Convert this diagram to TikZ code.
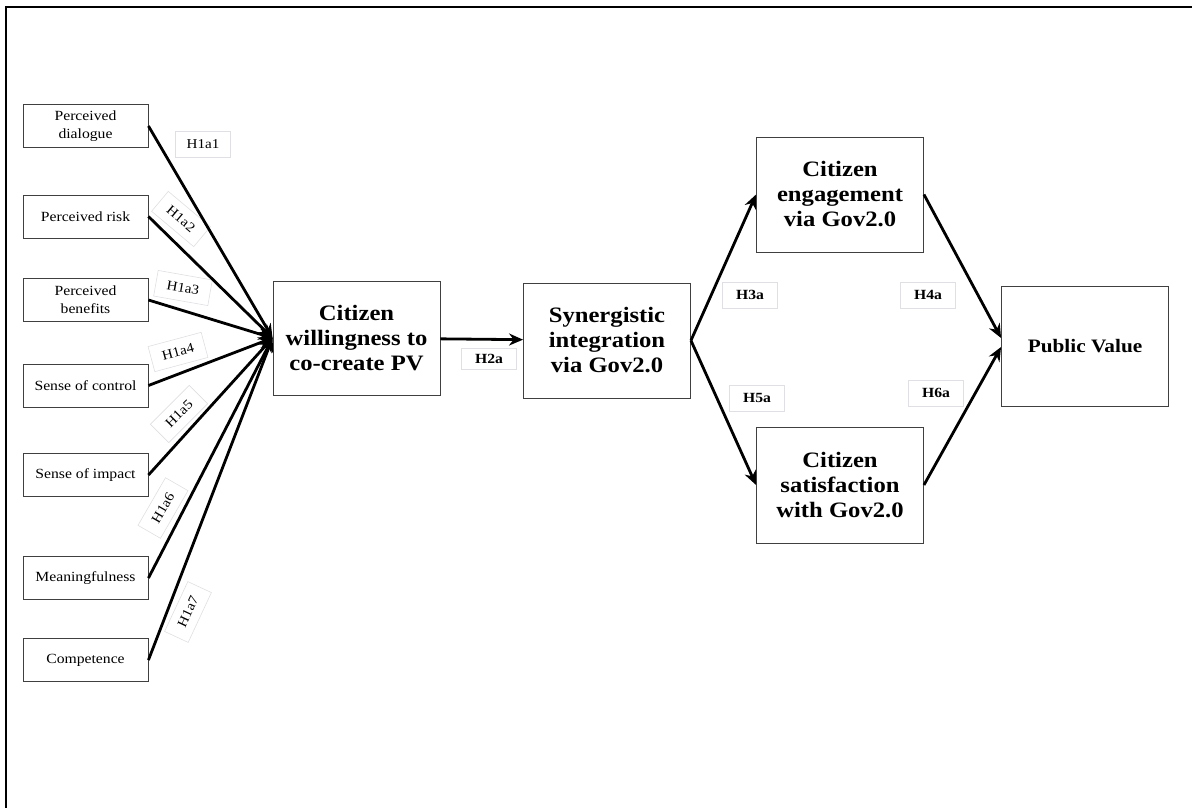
\documentclass[tikz,border=0pt]{standalone}
\usepackage{fontspec}
\setmainfont{Liberation Serif}[FakeStretch=1.12]
\usetikzlibrary{arrows.meta,positioning}

\begin{document}
\begin{tikzpicture}[x=1pt, y=-1pt,
    factor/.style={draw=black!75, line width=0.9pt, minimum width=125pt, minimum height=43pt,
      inner sep=2pt, align=center, font=\fontsize{14}{18}\selectfont},
    construct/.style={draw=black!75, line width=0.9pt, minimum width=167pt, minimum height=115pt,
      align=center, font=\fontsize{22}{25}\selectfont\bfseries},
    hyp/.style={draw=blue!12!black!12, line width=0.6pt, fill=white, minimum width=55pt,
      minimum height=26pt, inner sep=2pt, font=\fontsize{13.5}{15}\selectfont},
    hypb/.style={hyp, font=\fontsize{14}{16}\selectfont\bfseries},
    link/.style={-{Stealth[length=14pt,width=12pt]}, line width=2.8pt}]
\useasboundingbox (0,0) rectangle (1192,808);
\draw[line width=2pt] (6,808) -- (6,7) -- (1192,7);

% antecedents
\node[factor] (dialogue) at (85.5,126) {Perceived\\dialogue};
\node[factor] (risk) at (85.5,216.5) {Perceived risk};
\node[factor] (benefits) at (85.5,300) {Perceived\\benefits};
\node[factor] (control) at (85.5,385.5) {Sense of control};
\node[factor] (impact) at (85.5,475) {Sense of impact};
\node[factor] (meaning) at (85.5,578) {Meaningfulness};
\node[factor] (competence) at (85.5,660) {Competence};

% main constructs
\node[construct, minimum height=114pt] (willing) at (356.5,338) {Citizen\\willingness to\\co-create PV};
\node[construct] (synergy) at (607,340.5) {Synergistic\\integration\\via Gov2.0};
\node[construct] (engage) at (840,194.5) {Citizen\\engagement\\via Gov2.0};
\node[construct, minimum height=116pt] (satisf) at (840,485) {Citizen\\satisfaction\\with Gov2.0};
\node[construct, minimum height=120pt, font=\fontsize{19}{22}\selectfont\bfseries] (pv) at (1085,346) {Public Value};

% hypotheses
\node[hyp] (h1) at (203,144) {H1a1};
\node[hyp, rotate=-40] (h2) at (181,219) {H1a2};
\node[hyp, rotate=-10] (h3) at (183,288) {H1a3};
\node[hyp, rotate=15] (h4) at (178,352) {H1a4};
\node[hyp, rotate=45] (h5) at (179,414) {H1a5};
\node[hyp, rotate=60] (h6) at (163,508) {H1a6};
\node[hyp, rotate=65] (h7) at (188,612) {H1a7};
\node[hypb, minimum height=21pt] (h2a) at (489,359) {H2a};
\node[hypb] (h3a) at (750,295) {H3a};
\node[hypb] (h4a) at (928,295) {H4a};
\node[hypb] (h5a) at (757,398) {H5a};
\node[hypb] (h6a) at (936,393) {H6a};

\foreach \f in {dialogue,risk,benefits,control,impact,meaning,competence}
  \draw[link] (\f.east) -- (willing.west);
\draw[link] (willing) -- (synergy);
\draw[link] (synergy.east) -- (engage.west);
\draw[link] (synergy.east) -- (satisf.west);
\draw[link] (engage.east) -- ([yshift=8pt]pv.west);
\draw[link] (satisf.east) -- ([yshift=-1pt]pv.west);
\end{tikzpicture}
\end{document}
